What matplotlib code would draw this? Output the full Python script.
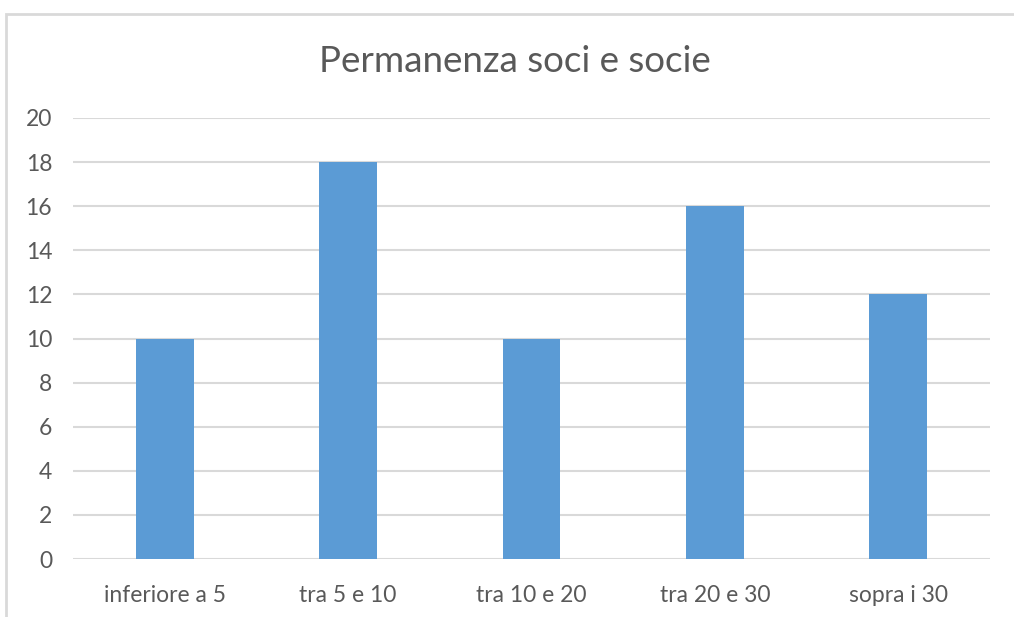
import matplotlib.pyplot as plt
from matplotlib.patches import Rectangle

# dati
categorie = ["inferiore a 5", "tra 5 e 10", "tra 10 e 20", "tra 20 e 30", "sopra i 30"]
valori = [10, 18, 10, 16, 12]
yticks = [0, 2, 4, 6, 8, 10, 12, 14, 16, 18, 20]

plt.rcParams['font.family'] = ['Lato', 'DejaVu Sans']

fig = plt.figure(figsize=(10.14, 6.17), dpi=100)
ax = fig.add_axes([73/1014, 1 - 559/617, (990 - 73)/1014, (559 - 118)/617])

x = range(len(categorie))
ax.bar(x, valori, width=0.315, color="#5B9BD5", zorder=3)

ax.set_xlim(-0.5, len(categorie) - 0.5)
ax.set_ylim(0, 20)
ax.set_yticks(yticks)
ax.set_xticks(list(x))
ax.set_xticklabels(categorie)
ax.grid(axis="y", color="#D9D9D9", linewidth=1.5, zorder=0)
ax.tick_params(length=0, labelsize=16.5, labelcolor="#595959")
ax.tick_params(axis="y", pad=15)
ax.tick_params(axis="x", pad=19)
for s in ax.spines.values():
    s.set_visible(False)

fig.text(515/1014, 1 - 62/617, "Permanenza soci e socie", ha="center", va="center",
         fontsize=26.5, color="#595959")

# cornice del grafico
fig.patches.append(Rectangle((6/1014, -0.1), 1.2, 1 - 14/617 + 0.1, transform=fig.transFigure,
                             fill=False, edgecolor="#D9D9D9", linewidth=2))

fig.savefig("out.png", dpi=100)
